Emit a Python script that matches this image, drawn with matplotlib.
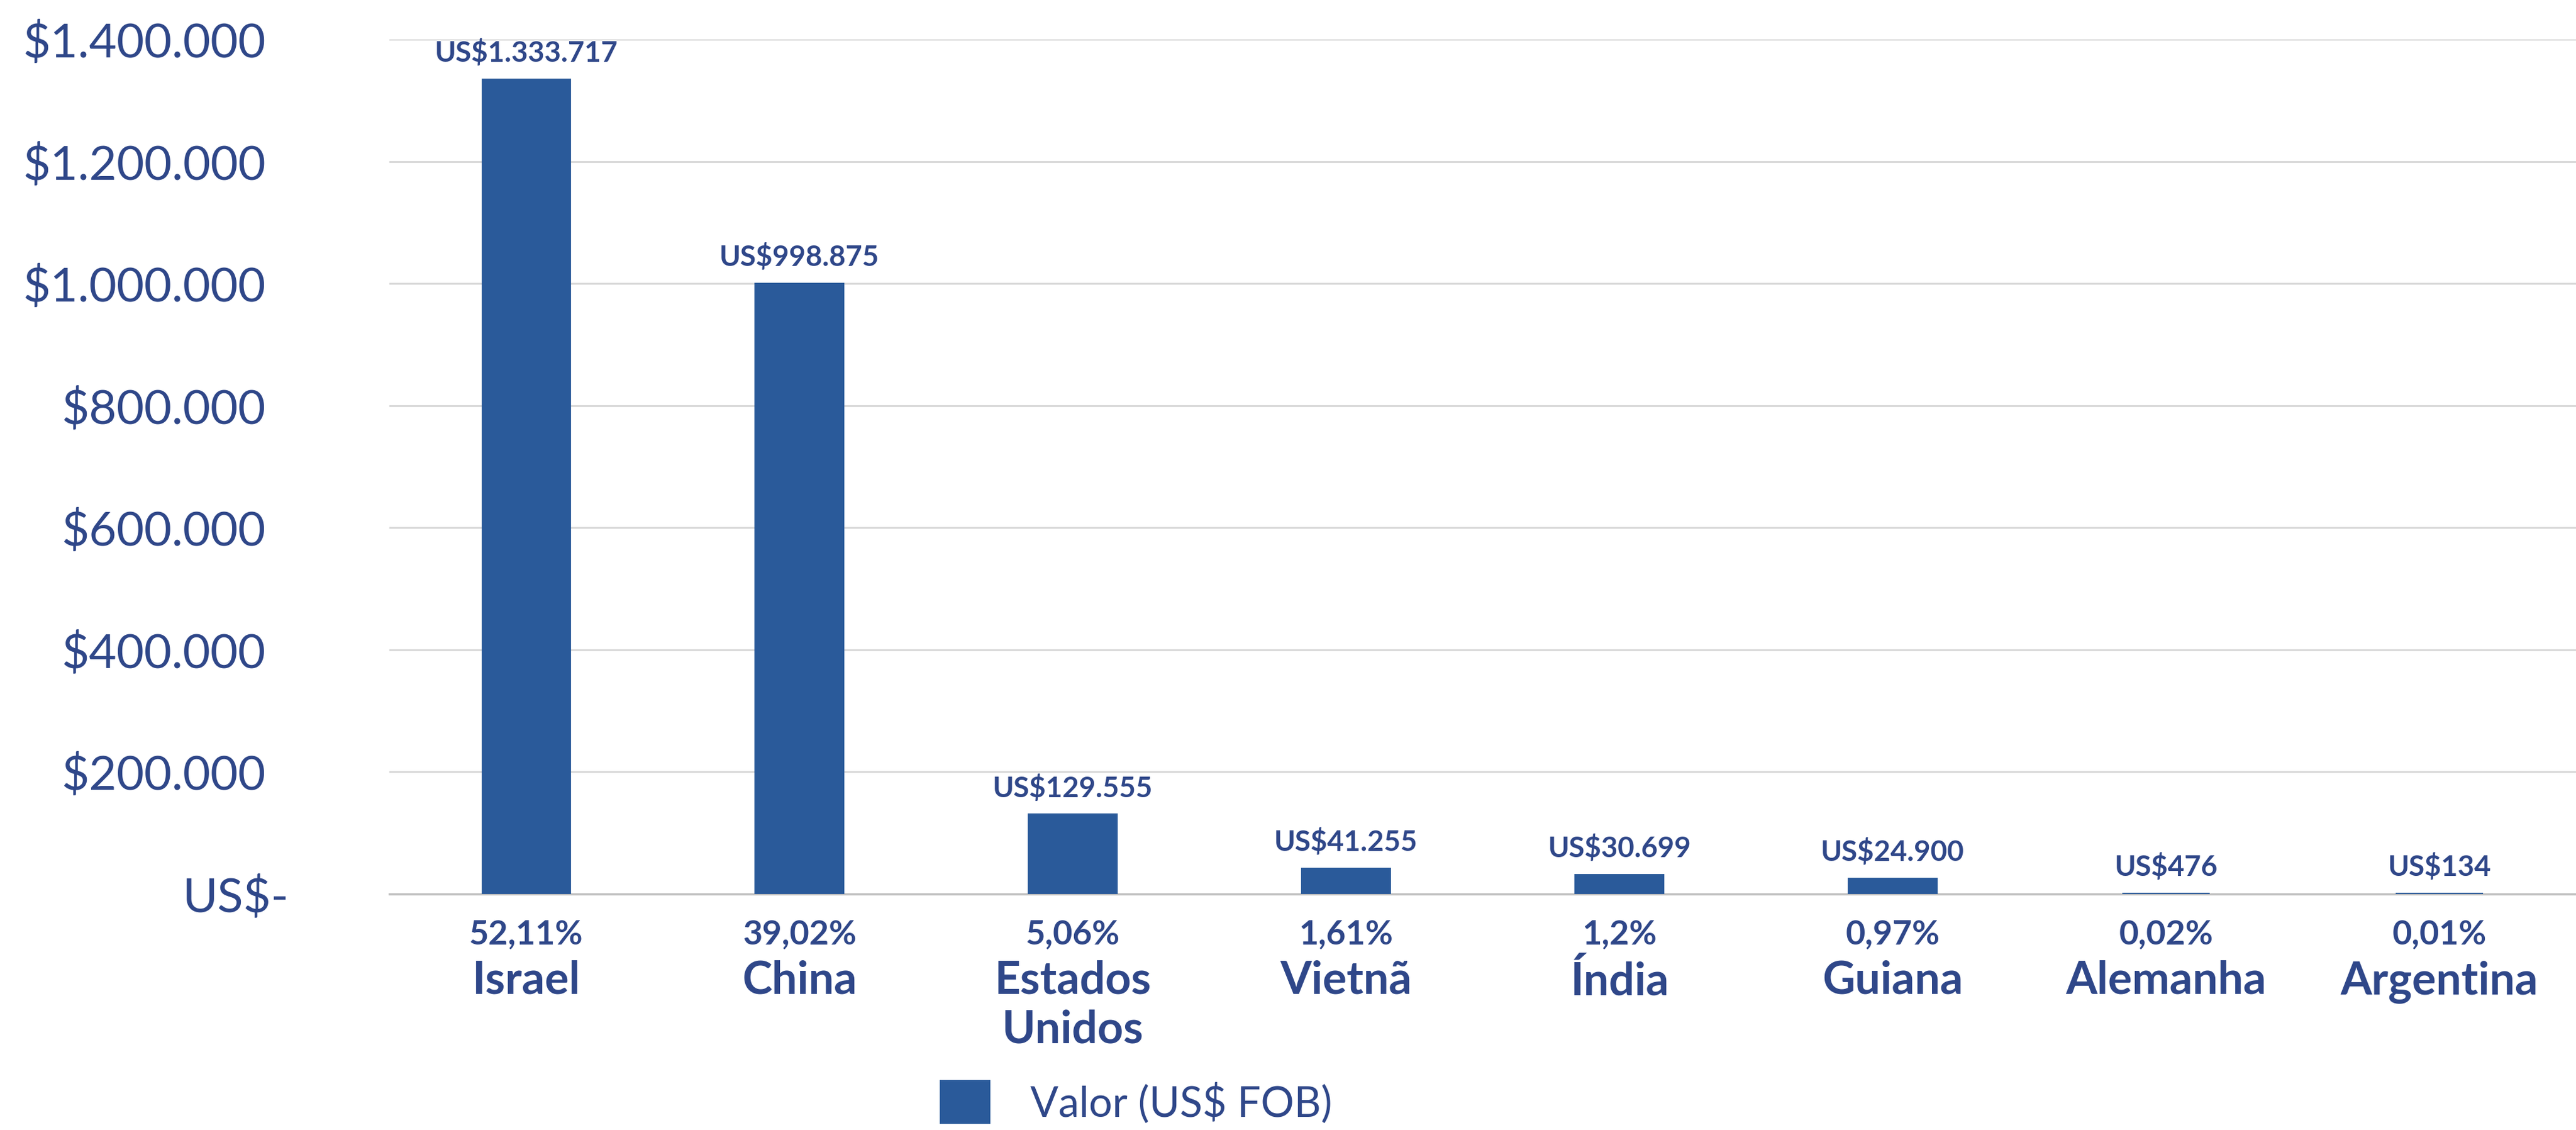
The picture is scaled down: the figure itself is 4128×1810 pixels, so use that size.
import numpy as np
import matplotlib
matplotlib.use('Agg')
import matplotlib.pyplot as plt
from matplotlib.ticker import FuncFormatter
from matplotlib.transforms import ScaledTranslation


# data
Paises = ['Israel', 'China', 'Estados\nUnidos', 'Vietnã', 'Índia', 'Guiana', 'Alemanha', 'Argentina']
Valores = [1333717, 998875, 129555, 41255, 30699, 24900, 476, 134]
Percentuais = ['52,11%', '39,02%', '5,06%', '1,61%', '1,2%', '0,97%', '0,02%', '0,01%']
YTicks = [0, 200000, 400000, 600000, 800000, 1000000, 1200000, 1400000]
LegendLabel = 'Valor (US$ FOB)'

BarColor = '#2a5a9a'
TextColor = '#2f4789'


'''
format numbers the brazilian way: 1.333.717
'''
def pontos(v):
    return '{:,}'.format(int(v)).replace(',', '.')


def yFormat(v, pos):
    if v == 0:
        return 'US$-'
    return '$' + pontos(v)


'''
do the plotting
'''
def PlotExport(name):
    plt.rcParams['font.family'] = ['Lato', 'DejaVu Sans']

    fig = plt.figure(figsize=(41.28, 18.10), dpi=100)
    ax = fig.add_axes([0.1512, 0.2088, 0.8488, 0.7564])

    x = np.arange(len(Paises))
    # thick edge in the bar colour so the tiny bars (US$476, US$134) still show, like in Excel
    bars = ax.bar(x, Valores, width=0.318, color=BarColor, edgecolor=BarColor, linewidth=3, zorder=3)

    # value labels above the bars
    ax.bar_label(bars, labels=['US$' + pontos(v) for v in Valores], padding=15,
                 fontsize=33, fontweight='bold', color=TextColor)

    # percentage line under the axis
    for i in range(len(Paises)):
        ax.annotate(Percentuais[i], xy=(x[i], 0), xycoords=('data', 'axes fraction'),
                    xytext=(0, -29), textcoords='offset points', ha='center', va='top',
                    fontsize=39, fontweight='bold', color=TextColor)

    ax.set_xticks(x)
    ax.set_xticklabels(Paises, fontsize=52, fontweight='bold', color=TextColor, linespacing=1.22)
    ax.tick_params(axis='x', length=0, pad=76)

    ax.set_yticks(YTicks)
    ax.yaxis.set_major_formatter(FuncFormatter(yFormat))
    ax.tick_params(axis='y', length=0, pad=143, labelsize=55, labelcolor=TextColor)

    # Excel's accounting format pushes the "US$-" a bit further right
    lab0 = ax.yaxis.get_major_ticks()[0].label1
    lab0.set_transform(lab0.get_transform() + ScaledTranslation(0.38, 0, fig.dpi_scale_trans))

    ax.set_xlim(-0.5, len(Paises) - 0.5)
    ax.set_ylim(0, 1400000)

    ax.yaxis.grid(True, color='#d9d9d9', linewidth=2.2, zorder=0)
    ax.set_axisbelow(True)
    for s in ['top', 'right', 'left']:
        ax.spines[s].set_visible(False)
    ax.spines['bottom'].set_color('#bfbfbf')
    ax.spines['bottom'].set_linewidth(2.5)
    ax.spines['bottom'].set_zorder(2)

    leg = fig.legend(handles=[bars], labels=[LegendLabel], loc='upper left',
                     bbox_to_anchor=(1508 / 4128, 1 - 1732 / 1810), frameon=False,
                     fontsize=48, handlelength=1.15, handleheight=1.15, handletextpad=1.0,
                     borderpad=0, borderaxespad=0)
    for t in leg.get_texts():
        t.set_color(TextColor)

    fig.savefig(name, dpi=100)
    plt.close(fig)


'''
Main part
'''
if __name__ == "__main__":
    PlotExport('out.png')
